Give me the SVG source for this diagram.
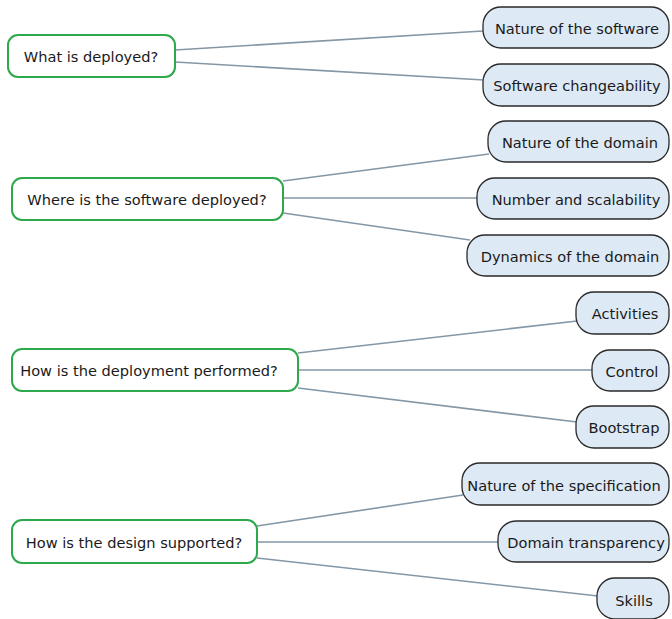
<svg xmlns="http://www.w3.org/2000/svg" width="672" height="619" viewBox="0 0 672 619">
<style>
text{font-family:"DejaVu Sans",sans-serif;font-size:14.6px;fill:#1a1a1a;text-anchor:middle;dominant-baseline:central}
.p{fill:#fff;stroke:#2ea84c;stroke-width:2}
.c{fill:#dde9f4;stroke:#2a2a2a;stroke-width:1.3}
.e{stroke:#8497a6;stroke-width:1.6;fill:none}
</style>
<rect width="672" height="619" fill="#fff"/>
<g id="edges">
<line class="e" x1="175" y1="50" x2="483" y2="31"/>
<line class="e" x1="175" y1="62" x2="484" y2="80"/>
<line class="e" x1="283" y1="181" x2="489" y2="154"/>
<line class="e" x1="283" y1="198" x2="477" y2="198"/>
<line class="e" x1="283" y1="213" x2="470" y2="240"/>
<line class="e" x1="298" y1="353" x2="577" y2="321"/>
<line class="e" x1="298" y1="370" x2="592" y2="370"/>
<line class="e" x1="298" y1="388" x2="577" y2="422"/>
<line class="e" x1="257" y1="526" x2="463" y2="495"/>
<line class="e" x1="257" y1="542" x2="498" y2="542"/>
<line class="e" x1="257" y1="558" x2="598" y2="596"/>
</g>
<g id="q1"><rect class="p" x="8" y="35" width="167" height="42" rx="10"/><text x="91" y="56">What is deployed?</text></g>
<g id="n1a"><rect class="c" x="483" y="7" width="186" height="41" rx="18"/><text x="577" y="28">Nature of the software</text></g>
<g id="n1b"><rect class="c" x="483" y="64" width="186" height="42" rx="18"/><text x="577" y="85">Software changeability</text></g>
<g id="q2"><rect class="p" x="12" y="178" width="271" height="42" rx="10"/><text x="147" y="199">Where is the software deployed?</text></g>
<g id="n2a"><rect class="c" x="488" y="121" width="181" height="41" rx="18"/><text x="580" y="142">Nature of the domain</text></g>
<g id="n2b"><rect class="c" x="477" y="178" width="192" height="41" rx="18"/><text x="576" y="199">Number and scalability</text></g>
<g id="n2c"><rect class="c" x="467" y="235" width="202" height="41" rx="18"/><text x="570" y="256">Dynamics of the domain</text></g>
<g id="q3"><rect class="p" x="12" y="349" width="286" height="42" rx="10"/><text x="149" y="370">How is the deployment performed?</text></g>
<g id="n3a"><rect class="c" x="576" y="292" width="93" height="42" rx="18"/><text x="625" y="313">Activities</text></g>
<g id="n3b"><rect class="c" x="592" y="350" width="77" height="41" rx="18"/><text x="632" y="371">Control</text></g>
<g id="n3c"><rect class="c" x="576" y="406" width="93" height="42" rx="18"/><text x="624" y="427">Bootstrap</text></g>
<g id="q4"><rect class="p" x="12" y="520" width="245" height="43" rx="10"/><text x="134" y="542">How is the design supported?</text></g>
<g id="n4a"><rect class="c" x="462" y="463" width="207" height="42" rx="18"/><text x="564" y="485">Nature of the specification</text></g>
<g id="n4b"><rect class="c" x="498" y="521" width="171" height="41" rx="18"/><text x="586" y="542">Domain transparency</text></g>
<g id="n4c"><rect class="c" x="597" y="578" width="72" height="41" rx="18"/><text x="634" y="600">Skills</text></g>
</svg>
